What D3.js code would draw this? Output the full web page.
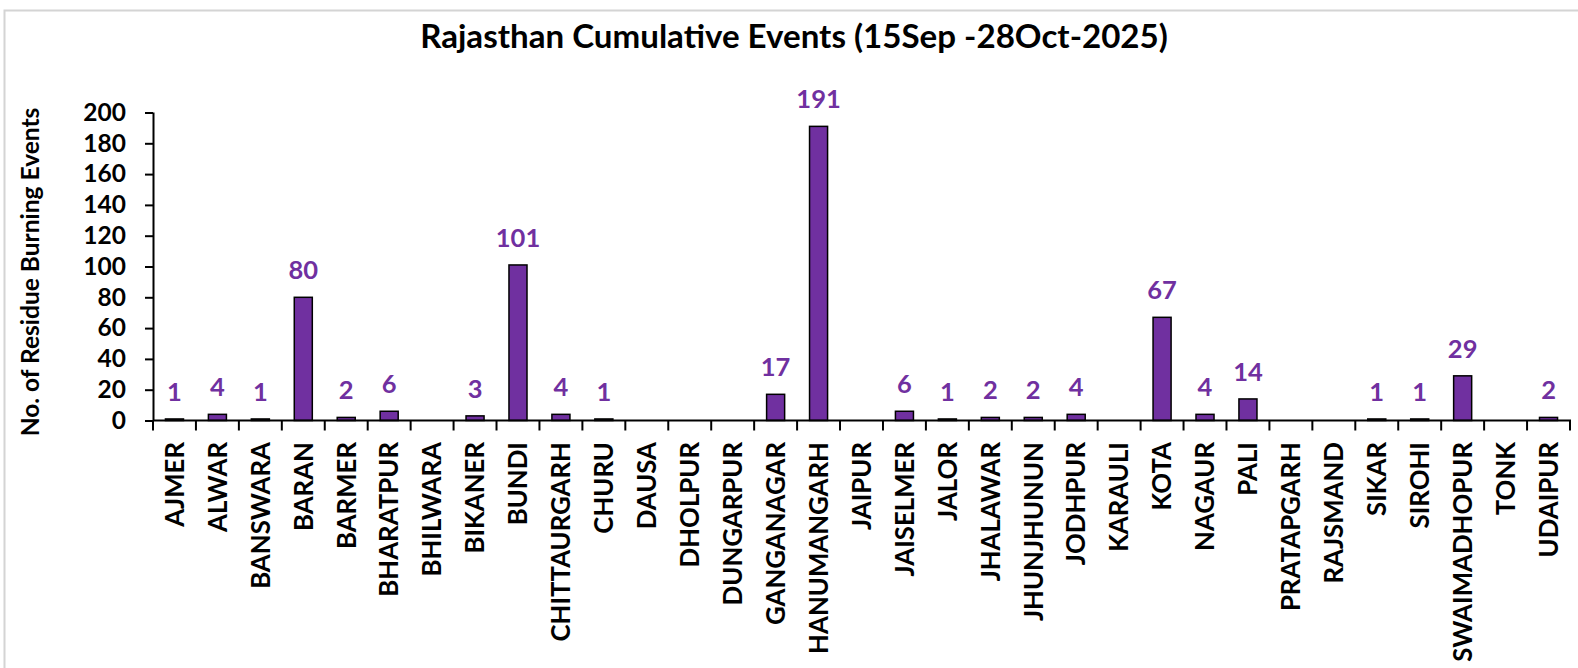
<!DOCTYPE html>
<html>
<head>
<meta charset="utf-8">
<script src="https://cdn.jsdelivr.net/npm/d3@7"></script>
<style>
  html, body { margin: 0; padding: 0; background: #fff; }
  svg { display: block; }
  text { font-family: Lato, "Open Sans", sans-serif; font-weight: bold; }
</style>
</head>
<body>
<svg id="chart" width="1578" height="668"></svg>
<script>
const titleText = "Rajasthan Cumulative Events (15Sep -28Oct-2025)";
const yAxisTitle = "No. of Residue Burning Events";
const districts = ["AJMER","ALWAR","BANSWARA","BARAN","BARMER","BHARATPUR","BHILWARA","BIKANER","BUNDI","CHITTAURGARH","CHURU","DAUSA","DHOLPUR","DUNGARPUR","GANGANAGAR","HANUMANGARH","JAIPUR","JAISELMER","JALOR","JHALAWAR","JHUNJHUNUN","JODHPUR","KARAULI","KOTA","NAGAUR","PALI","PRATAPGARH","RAJSMAND","SIKAR","SIROHI","SWAIMADHOPUR","TONK","UDAIPUR"];
const events = [1,4,1,80,2,6,0,3,101,4,1,0,0,0,17,191,0,6,1,2,2,4,0,67,4,14,0,0,1,1,29,0,2];
const yTicks = [0,20,40,60,80,100,120,140,160,180,200];

const data = districts.map((d, i) => ({ name: d, value: events[i] }));
const svg = d3.select("#chart");

// frame
svg.append("rect").attr("x", 4.5).attr("y", 10.5).attr("width", 1580).attr("height", 670)
  .attr("fill", "#fff").attr("stroke", "#d4d4d4").attr("stroke-width", 2);

const x = d3.scaleBand().domain(districts).range([153, 1570]).paddingInner(0.58).paddingOuter(0.29);
const y = d3.scaleLinear().domain([0, 200]).range([420.5, 112.5]);

// title
const title = svg.append("text").attr("x", 794).attr("y", 48).attr("text-anchor", "middle")
  .attr("font-size", 28).attr("fill", "#000").text(titleText);
const tw = title.node().getComputedTextLength();
title.attr("font-size", 28 * 748 / tw);

// y axis title
svg.append("text").attr("transform", "translate(39,272) rotate(-90)").attr("text-anchor", "middle")
  .attr("font-size", 24.5).attr("fill", "#000").text(yAxisTitle);

// y axis
const yAxis = svg.append("g").attr("transform", "translate(153,0)")
  .call(d3.axisLeft(y).tickValues(yTicks).tickSize(8).tickPadding(19));
yAxis.select(".domain").attr("stroke", "#000").attr("stroke-width", 2).attr("d", `M0.5,${y(0)}V${y(200)}`);
yAxis.selectAll(".tick line").attr("stroke", "#000").attr("stroke-width", 2);
yAxis.selectAll(".tick text").attr("font-size", 24.5).attr("fill", "#000")
  .attr("font-family", "Lato, sans-serif").attr("font-weight", "bold");

// bars
svg.append("g").selectAll("rect").data(data.filter(d => d.value > 0)).join("rect")
  .attr("x", d => x(d.name)).attr("width", x.bandwidth())
  .attr("y", d => y(d.value)).attr("height", d => y(0) - y(d.value))
  .attr("fill", "#7030A0").attr("stroke", "#000").attr("stroke-width", 1.5);

// x axis line and boundary ticks
const step = x.step();
const x0 = x.range()[0];
svg.append("line").attr("x1", x0).attr("x2", x.range()[1] + 1).attr("y1", y(0)).attr("y2", y(0))
  .attr("stroke", "#000").attr("stroke-width", 2);
svg.append("g").selectAll("line").data(d3.range(districts.length + 1)).join("line")
  .attr("x1", i => x0 + i * step).attr("x2", i => x0 + i * step)
  .attr("y1", y(0)).attr("y2", y(0) + 10).attr("stroke", "#000").attr("stroke-width", 2);

// category labels
svg.append("g").selectAll("text").data(data).join("text")
  .attr("transform", d => `translate(${x(d.name) + x.bandwidth() / 2},442) rotate(-90)`)
  .attr("text-anchor", "end").attr("dy", "0.36em")
  .attr("font-size", 25.8).attr("fill", "#000").text(d => d.name);

// value labels
svg.append("g").selectAll("text").data(data.filter(d => d.value > 0)).join("text")
  .attr("x", d => x(d.name) + x.bandwidth() / 2).attr("y", d => y(d.value) - 18)
  .attr("text-anchor", "middle").attr("font-size", 25.5).attr("fill", "#7030A0")
  .text(d => d.value);
</script>
</body>
</html>
